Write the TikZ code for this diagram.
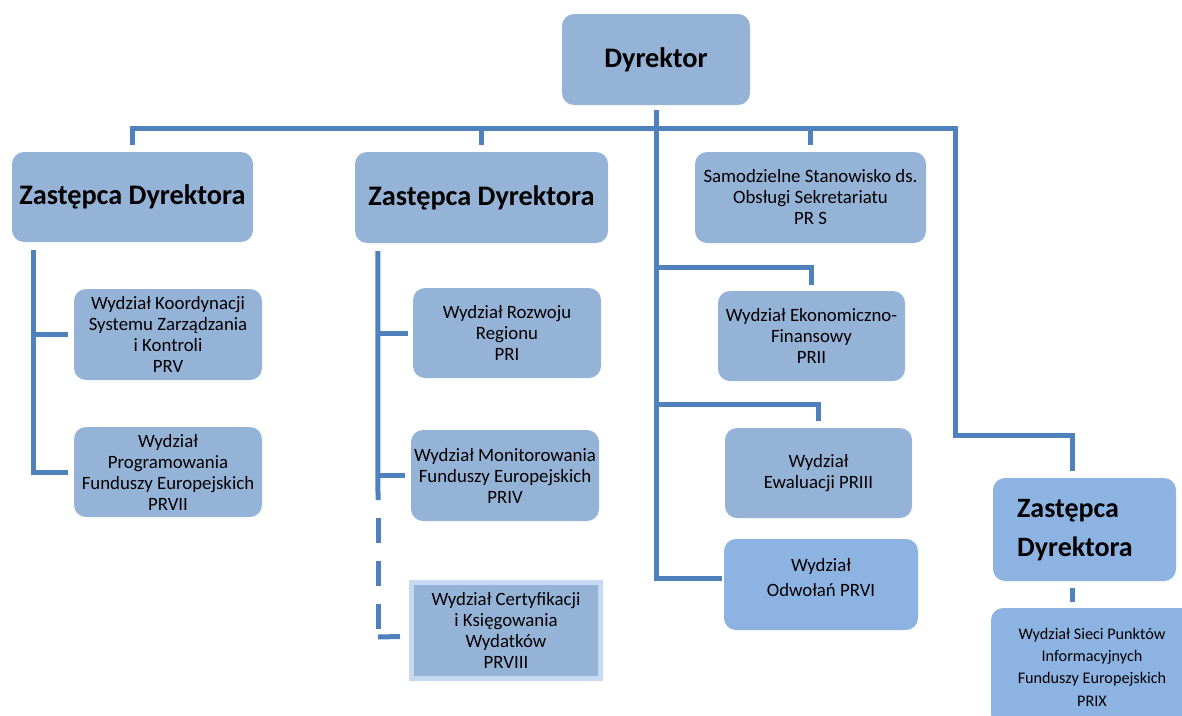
\documentclass[tikz,border=0pt]{standalone}
\usepackage{fontspec}
\setmainfont{Carlito}
\definecolor{boxfill}{HTML}{95B3D7}
\definecolor{boxbright}{HTML}{8DB3E2}
\definecolor{linec}{HTML}{4F81BD}
\definecolor{frame}{HTML}{C6D9F1}
\tikzset{
  orgbox/.style={rounded corners=12pt, fill=boxfill, inner sep=0pt, align=center,
     font=\fontsize{18.8}{21}\selectfont},
  brightbox/.style={orgbox, fill=boxbright},
  titlebox/.style={orgbox, font=\fontsize{28.3}{34}\bfseries\selectfont},
  conn/.style={draw=linec, line width=5pt},
  dashconn/.style={conn, dash pattern=on 25pt off 18pt, dash phase=25pt}
}
\begin{document}
\begin{tikzpicture}[x=1pt,y=-1pt]
\useasboundingbox (0,0) rectangle (1182,715);
\clip (0,0) rectangle (1182,715);
% boxes
\node[titlebox, minimum width=188pt, minimum height=91pt] (dyr) at (656,59.5) {Dyrektor};
\node[titlebox, minimum width=241pt, minimum height=90pt] (zd1) at (132.5,197) {Zastępca Dyrektora};
\node[titlebox, minimum width=253pt, minimum height=91pt] (zd2) at (481.5,197.5) {Zastępca Dyrektora};
\node[orgbox, minimum width=231pt, minimum height=91pt] (samo) at (810.5,197.5) {Samodzielne Stanowisko ds.\\Obsługi Sekretariatu\\PR S};
\node[orgbox, minimum width=188pt, minimum height=91pt] (prv) at (168,334.5) {Wydział Koordynacji\\Systemu Zarządzania\\i Kontroli\\PRV};
\node[orgbox, minimum width=188pt, minimum height=90pt] (prvii) at (168,472) {Wydział\\Programowania\\Funduszy Europejskich\\PRVII};
\node[orgbox, minimum width=188pt, minimum height=90pt] (pri) at (507,333) {Wydział Rozwoju\\Regionu\\PRI};
\node[orgbox, minimum width=188pt, minimum height=91pt] (priv) at (505,475.5) {Wydział Monitorowania\\Funduszy Europejskich\\PRIV};
\node[orgbox, rounded corners=0pt, draw=frame, line width=5pt, minimum width=189pt, minimum height=96pt] (prviii) at (506,630.5) {Wydział Certyfikacji\\i Księgowania\\Wydatków\\PRVIII};
\node[orgbox, minimum width=187pt, minimum height=90pt] (eko) at (811.5,336) {Wydział Ekonomiczno-\\Finansowy\\PRII};
\node[orgbox, minimum width=187pt, minimum height=90pt] (ewa) at (818.5,473) {Wydział\\Ewaluacji PRIII};
\node[brightbox, minimum width=194pt, minimum height=91pt] (odw) at (821,584.5) {};
\node[orgbox, fill=none, font=\fontsize{18.8}{25}\selectfont] (odwt) at (821,577.5) {Wydział\\Odwołań PRVI};
\node[brightbox, minimum width=183pt, minimum height=103pt] (zd3) at (1084.5,529.5) {};
\node[orgbox, fill=none, anchor=west, align=left, font=\fontsize{28}{39}\bfseries\selectfont] (zd3t) at (1017,530.5) {Zastępca\\Dyrektora};
\node[brightbox, minimum width=202pt, minimum height=118pt, font=\fontsize{16.2}{22.3}\selectfont] (prix) at (1092,667) {Wydział Sieci Punktów\\Informacyjnych\\Funduszy Europejskich\\PRIX};
% connectors
\coordinate (bus) at (0,128);
\coordinate (rc) at (955,128);
\coordinate (rk) at (955,435);
\draw[conn] ([yshift=7pt]zd1.north) -- (zd1.north |- bus) -- (rc) -- (rk) -- ([xshift=-12.5pt]rk -| zd3.north) -- ([xshift=-12.5pt,yshift=7pt]zd3.north);
\draw[conn] ([yshift=7pt]zd2.north) -- (zd2.north |- bus);
\draw[conn] ([yshift=7pt]samo.north) -- (samo.north |- bus);
% director trunk
\coordinate (b1) at (656,267);
\coordinate (b2) at (656,404);
\draw[conn] ([yshift=-5pt]dyr.south) -- ([yshift=6pt]dyr.south |- odw.west) -- ([xshift=-2pt,yshift=6pt]odw.west);
\draw[conn] (b1) -| ([yshift=6pt]eko.north);
\draw[conn] (b2) -| ([yshift=7pt]ewa.north);
% deputy 1 children
\draw[conn] ([xshift=22pt,yshift=-8pt]zd1.south west) -- ([xshift=22pt]zd1.south west |- prvii.west) -- ([xshift=-6pt]prvii.west);
\draw[conn] ([xshift=22pt]zd1.south west |- prv.west) -- ([xshift=-6pt]prv.west);
% deputy 2 children
\coordinate (d2end) at (378,500);
\draw[conn] ([xshift=23pt,yshift=-8pt]zd2.south west) -- (d2end);
\draw[conn] ([xshift=23pt]zd2.south west |- pri.west) -- ([xshift=-5pt]pri.west);
\draw[conn] ([xshift=23pt]zd2.south west |- priv.west) -- ([xshift=-6pt]priv.west);
\coordinate (d2bot) at (378,629);
\draw[dashconn] (d2end) -- (d2bot);
\draw[conn] ([yshift=-8pt]d2bot) -- ([xshift=-9pt,yshift=-6pt]prviii.west);
% deputy 3 child
\draw[conn] ([xshift=-12.5pt,yshift=-7pt]zd3.south) -- ([xshift=-20pt,yshift=6pt]prix.north);
\end{tikzpicture}
\end{document}
